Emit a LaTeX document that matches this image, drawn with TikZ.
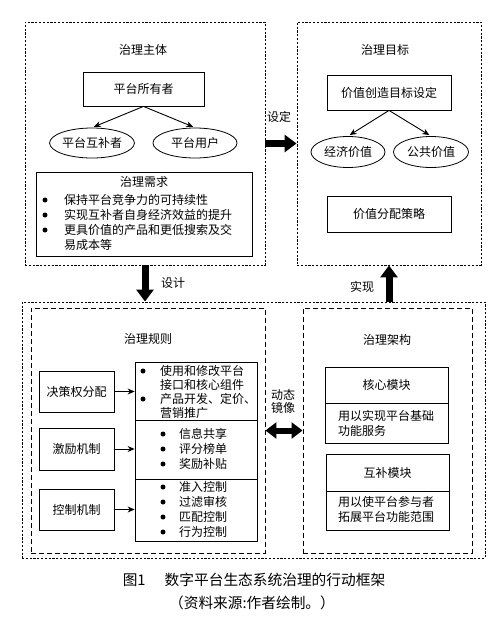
\documentclass[tikz,border=0pt]{standalone}
\usepackage{fontspec}
\setmainfont{Noto Sans CJK SC}
\usetikzlibrary{arrows.meta,shapes.geometric}
\begin{document}
\begin{tikzpicture}[x=1pt,y=-1pt,
  every node/.style={font=\fontsize{12pt}{14pt}\selectfont, inner sep=0pt, text height=10pt, text depth=1pt},
  container/.style={draw, line width=0.9pt, dash pattern=on 2.2pt off 1.6pt},
  dashbox/.style={draw, line width=0.9pt, dash pattern=on 5pt off 3pt},
  solidbox/.style={draw, line width=0.8pt},
  ell/.style={draw, ellipse, line width=0.8pt},
  txt/.style={anchor=west},
  thinarr/.style={-{Stealth[length=7pt,width=6pt]}, line width=0.9pt},
  bigarr/.style={line width=7pt, -{Triangle[length=12pt,width=17pt]}},
  dblarr/.style={line width=6pt, {Triangle[length=11pt,width=16pt]}-{Triangle[length=11pt,width=16pt]}},
  bul/.style={fill=black},
  captxt/.style={font=\fontsize{14.7pt}{17pt}\selectfont, text height=12.5pt, text depth=1.5pt}
]
\useasboundingbox[fill=white] (0,0) rectangle (500,630);

% ---------- top left: governance subject ----------
\node[container, minimum width=240pt, minimum height=243pt] (A) at (145,143.5) {};
\node (At) at (143,50) {治理主体};
\node[solidbox, minimum width=121pt, minimum height=34pt] (owner) at (143.5,89) {平台所有者};
\node[ell, minimum width=83pt, minimum height=30pt] (e1) at (92,143) {平台互补者};
\node[ell, minimum width=84pt, minimum height=30pt] (e2) at (195,143) {平台用户};
\draw[thinarr, shorten >=2pt] (owner.south) -- (e1.north);
\draw[thinarr, shorten >=2pt] (owner.south) -- (e2.north);
\node[solidbox, minimum width=216pt, minimum height=84pt] (need) at (144,214) {};
\node (needt) at (144,182) {治理需求};
\fill[bul] (45,200) circle (2.5pt);
\fill[bul] (45,215) circle (2.5pt);
\fill[bul] (45,230) circle (2.5pt);
\node[txt] (n1) at (64,200) {保持平台竞争力的可持续性};
\node[txt] (n2) at (64,215) {实现互补者自身经济效益的提升};
\node[txt] (n3) at (64,230) {更具价值的产品和更低搜索及交};
\node[txt] (n4) at (64,245) {易成本等};

% ---------- top right: governance goal ----------
\node[container, minimum width=184pt, minimum height=243pt] (B) at (389,143.5) {};
\node (Bt) at (385,50) {治理目标};
\node[solidbox, minimum width=124pt, minimum height=35pt] (create) at (389,92.5) {价值创造目标设定};
\node[ell, minimum width=74pt, minimum height=31pt] (e3) at (348,152) {经济价值};
\node[ell, minimum width=75pt, minimum height=31pt] (e4) at (431,152) {公共价值};
\draw[thinarr, shorten >=2pt] (create.south) -- (e3.north);
\draw[thinarr, shorten >=2pt] (create.south) -- (e4.north);
\node[solidbox, minimum width=124pt, minimum height=36pt] (dist) at (389,214) {价值分配策略};

% ---------- bottom container ----------
\node[container, minimum width=463pt, minimum height=256pt] (C) at (253.5,430) {};
\node[dashbox, minimum width=234pt, minimum height=245pt] (D) at (148,430.5) {};
\node[dashbox, minimum width=169pt, minimum height=245pt] (E) at (387.5,430.5) {};

% governance rules
\node (Dt) at (148,339) {治理规则};
\node[solidbox, minimum width=75pt, minimum height=41pt] (L1) at (76.5,391.5) {决策权分配};
\node[solidbox, minimum width=75pt, minimum height=42pt] (L2) at (76.5,449) {激励机制};
\node[solidbox, minimum width=75pt, minimum height=41pt] (L3) at (76.5,509.5) {控制机制};
\node[solidbox, minimum width=122pt, minimum height=58pt] (R1) at (196,391) {};
\node[solidbox, minimum width=122pt, minimum height=59pt] (R2) at (196,449.5) {};
\node[solidbox, minimum width=122pt, minimum height=62pt] (R3) at (196,510) {};
\draw[thinarr] (L1.east) -- (L1.east -| R1.west);
\draw[thinarr] (L2.east) -- (L2.east -| R2.west);
\draw[thinarr] (L3.east) -- (L3.east -| R3.west);

\fill[bul] (143,371) circle (2.5pt);
\fill[bul] (143,399) circle (2.5pt);
\node[txt] (r11) at (160,371) {使用和修改平台};
\node[txt] (r12) at (160,385) {接口和核心组件};
\node[txt] (r13) at (160,399) {产品开发、定价、};
\node[txt] (r14) at (160,413) {营销推广};

\fill[bul] (163,434) circle (2.5pt);
\fill[bul] (163,449) circle (2.5pt);
\fill[bul] (163,464) circle (2.5pt);
\node[txt] (r21) at (179,434) {信息共享};
\node[txt] (r22) at (179,449) {评分榜单};
\node[txt] (r23) at (179,464) {奖励补贴};

\fill[bul] (163,487) circle (2.5pt);
\fill[bul] (163,502) circle (2.5pt);
\fill[bul] (163,517) circle (2.5pt);
\fill[bul] (163,532) circle (2.5pt);
\node[txt] (r31) at (179,487) {准入控制};
\node[txt] (r32) at (179,502) {过滤审核};
\node[txt] (r33) at (179,517) {匹配控制};
\node[txt] (r34) at (179,532) {行为控制};

% governance architecture
\node (Et) at (387,340) {治理架构};
\node[solidbox, minimum width=123pt, minimum height=36pt] (core) at (386.5,385) {核心模块};
\node[solidbox, minimum width=123pt, minimum height=40pt] (cored) at (386.5,423) {};
\node[txt] (c1) at (338,416) {用以实现平台基础};
\node[txt] (c2) at (338,431) {功能服务};
\node[solidbox, minimum width=123pt, minimum height=37pt] (comp) at (387.5,472.5) {互补模块};
\node[solidbox, minimum width=123pt, minimum height=39pt] (compd) at (387.5,510.5) {};
\node[txt] (m1) at (338,502) {用以使平台参与者};
\node[txt] (m2) at (338,517) {拓展平台功能范围};

% ---------- big arrows ----------
\draw[bigarr] (A.east) -- (A.east -| B.west);
\node (setd) at (279,117) {设定};
\draw[bigarr] (A.south) -- (A.south |- C.north);
\node (desg) at (173,283) {设计};
\draw[bigarr] (C.north -| B.south) -- (B.south);
\node (real) at (362,287) {实现};
\draw[dblarr] (D.east) -- (E.west);
\node (dyn1) at (283,395) {动态};
\node (dyn2) at (283,408) {镜像};

% ---------- caption ----------
\node[captxt] (cap1) at (254,580) {图1\hspace{1.3em}数字平台生态系统治理的行动框架};
\node[captxt] (cap2) at (252,603) {（资料来源:作者绘制。）};
\end{tikzpicture}
\end{document}
